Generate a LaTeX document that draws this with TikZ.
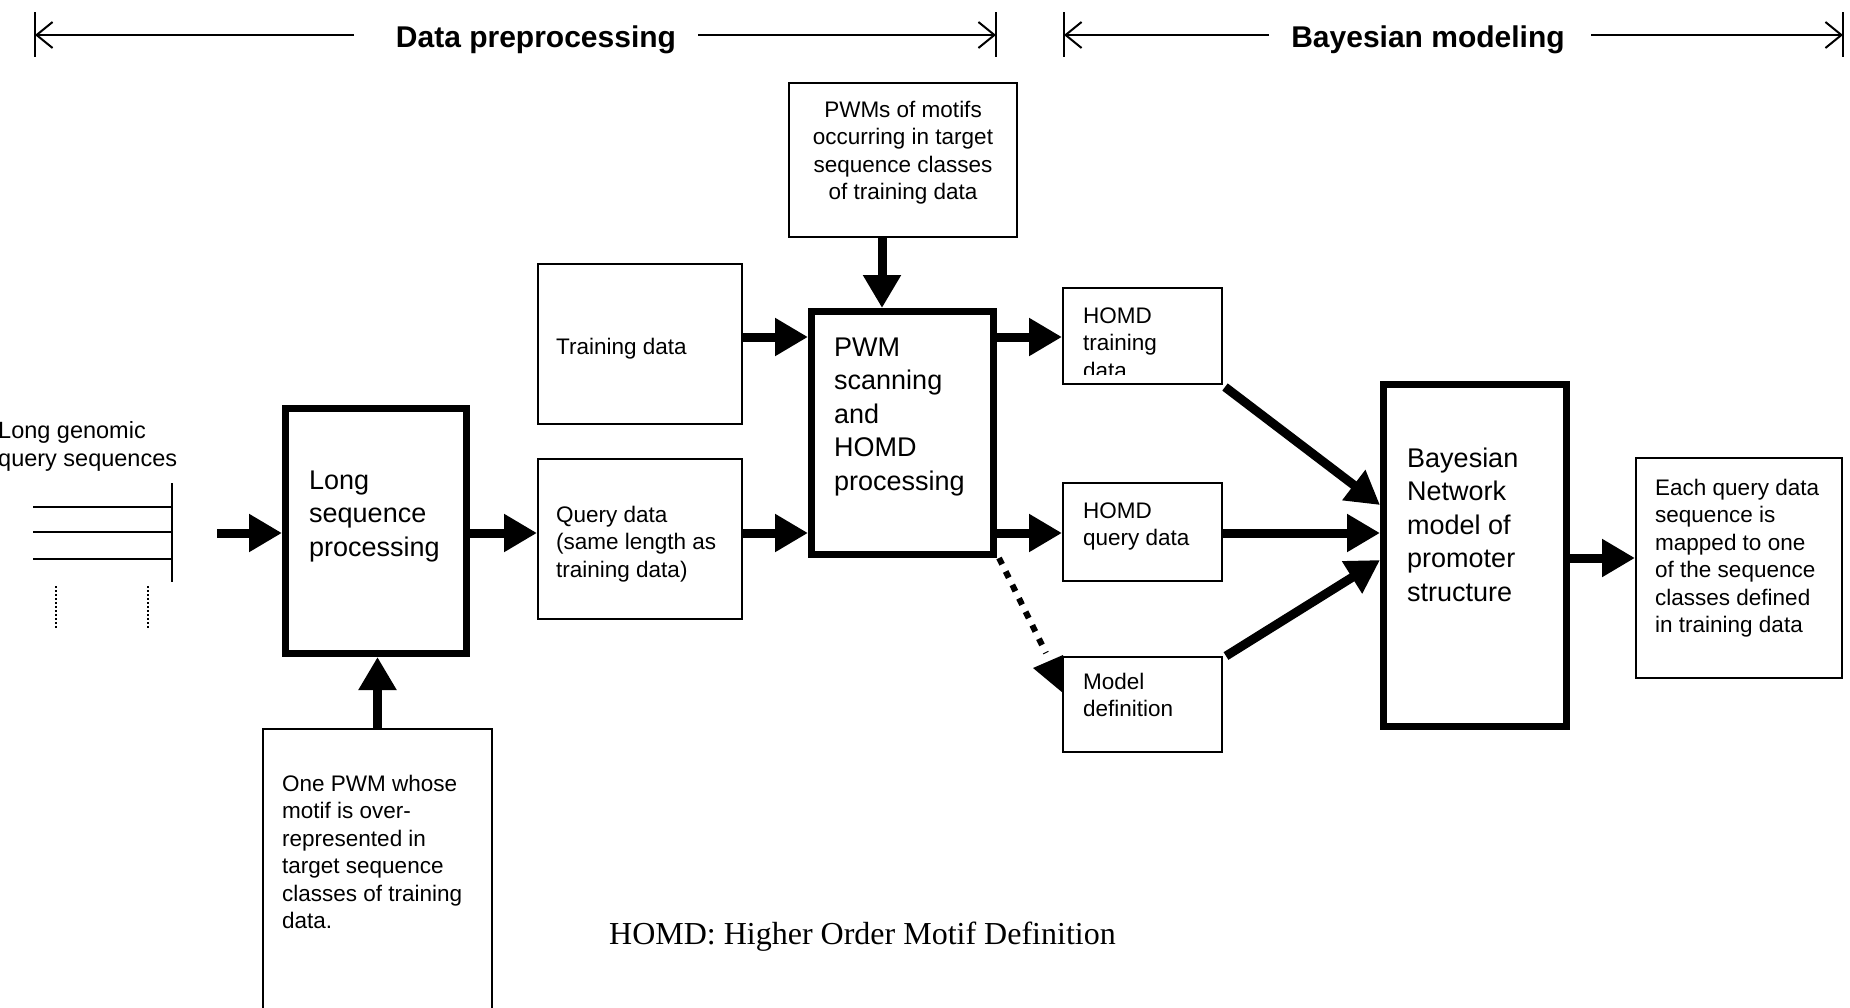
\documentclass[tikz,border=0pt]{standalone}
\usepackage{fontspec}
\setmainfont{Liberation Sans}
\newfontfamily\capfont{Liberation Serif}
\usetikzlibrary{arrows.meta,calc}
\begin{document}
\begin{tikzpicture}[x=1pt,y=-1pt,
  thinbox/.style={draw, line width=2pt, inner sep=0pt},
  thickbox/.style={draw, line width=7pt, inner sep=0pt},
  smalltext/.style={inner sep=0pt, anchor=north west, align=left, font=\fontsize{22.5}{27.5}\selectfont},
  bigtext/.style={inner sep=0pt, anchor=north west, align=left, font=\fontsize{27}{33.5}\selectfont},
  hdrtext/.style={inner sep=0pt, anchor=base, font=\fontsize{30}{36}\selectfont\bfseries},
  hdrline/.style={line width=2pt},
  hdrarrow/.style={line width=2pt, -{Straight Barb[length=16pt,width=26pt,line width=2pt]}},
  bigarrow/.style={line width=9pt, -{Triangle[length=33pt,width=36pt]}},
  dotarrow/.style={line width=6pt, dash pattern=on 7pt off 8pt},
  seqline/.style={line width=2pt},
  seqdots/.style={line width=1.6pt, dash pattern=on 2pt off 2pt}
]
\useasboundingbox (0,0) rectangle (1850,1007);
\fill[white] (0,0) rectangle (1850,1007);

% ---------- header ----------
\coordinate (hL1) at (35,35);
\coordinate (hL2) at (354,35);
\coordinate (hR2) at (698,35);
\coordinate (hR1) at (996,35);
\coordinate (bL1) at (1064,35);
\coordinate (bL2) at (1269,35);
\coordinate (bR2) at (1591,35);
\coordinate (bR1) at (1843,35);
\draw[hdrline] (35,12) -- (35,57);
\draw[hdrline] (996,12) -- (996,57);
\draw[hdrline] (1064,12) -- (1064,57);
\draw[hdrline] (1843,12) -- (1843,57);
\node[hdrtext] (dp) at (536,47) {Data preprocessing};
\node[hdrtext] (bm) at (1428,47) {Bayesian modeling};
\draw[hdrarrow] (hL2) -- (hL1);
\draw[hdrarrow] (hR2) -- (hR1);
\draw[hdrarrow] (bL2) -- (bL1);
\draw[hdrarrow] (bR2) -- (bR1);

% ---------- row coordinates ----------
\coordinate (r337) at (0,337);
\coordinate (r505) at (0,505);
\coordinate (r533) at (0,533);
\coordinate (r558) at (0,558);
\coordinate (r560) at (0,560);
\coordinate (c882) at (882,0);

% ---------- boxes ----------
\node[thinbox, minimum width=228pt, minimum height=154pt] (ptop) at (903,160) {};
\node[thinbox, minimum width=204pt, minimum height=160pt] (train) at (640,344) {};
\node[thinbox, minimum width=204pt, minimum height=160pt] (query) at (640,539) {};
\node[thickbox, minimum width=182pt, minimum height=243pt] (pwm) at (902.5,433) {};
\node[thinbox, minimum width=159pt, minimum height=96pt] (htrain) at (1142.5,336) {};
\node[thinbox, minimum width=159pt, minimum height=98pt] (hquery) at (1142.5,532) {};
\node[thinbox, minimum width=159pt, minimum height=95pt] (mdef) at (1142.5,704.5) {};
\node[thickbox, minimum width=183pt, minimum height=342pt] (bayes) at (1475,555.5) {};
\node[thinbox, minimum width=206pt, minimum height=220pt] (each) at (1739,568) {};
\node[thickbox, minimum width=181pt, minimum height=245pt] (long) at (376,531) {};
\node[thinbox, minimum width=229pt, minimum height=302pt] (onepwm) at (377.5,880) {};

% ---------- texts ----------
\node[smalltext, anchor=north, align=center] (tptop) at (903,97.75)
  {\strut PWMs of motifs\\occurring in target\\sequence classes\\of training data};
\node[smalltext] (ttrain) at (556,334.75) {\strut Training data};
\node[smalltext] (tquery) at (556,502.75) {\strut Query data\\(same length as\\training data)};
\node[bigtext] (tpwm) at (834,332.55) {\strut PWM\\scanning\\and\\HOMD\\processing};
\begin{scope}
  \clip (1064,289) rectangle (1221,374);
  \node[smalltext] (thtrain) at (1083,303.75) {\strut HOMD\\training\\data};
\end{scope}
\node[smalltext] (thquery) at (1083,498.75) {\strut HOMD\\query data};
\node[smalltext] (tmdef) at (1083,669.75) {\strut Model\\definition};
\node[bigtext] (tbayes) at (1407,443.55) {\strut Bayesian\\Network\\model of\\promoter\\structure};
\node[smalltext] (teach) at (1655,475.75)
  {\strut Each query data\\sequence is\\mapped to one\\of the sequence\\classes defined\\in training data};
\node[bigtext] (tlong) at (309,465.55) {\strut Long\\sequence\\processing};
\node[smalltext] (tonepwm) at (282,771.75)
  {\strut One PWM whose\\motif is over-\\represented in\\target sequence\\classes of training\\data.};
\node[smalltext, font=\fontsize{23.5}{28}\selectfont] (tgen) at (-2,418.4) {\strut Long genomic\\query sequences};
\node[inner sep=0pt, anchor=base west, font=\capfont\fontsize{32}{38}\selectfont] (cap) at (609,944)
  {HOMD: Higher Order Motif Definition};

% ---------- long genomic sequences glyph ----------
\draw[seqline] (33,507) -- (172,507);
\draw[seqline] (33,532) -- (172,532);
\draw[seqline] (33,559) -- (172,559);
\draw[seqline] (172,483) -- (172,582);
\draw[seqdots] (56,586) -- (56,628);
\draw[seqdots] (148,586) -- (148,628);
\coordinate (gin) at (217,533);

% ---------- connectors ----------
\draw[bigarrow] (gin) -- (long.west |- gin);
\draw[bigarrow] (long.east |- r533) -- (query.west |- r533);
\draw[bigarrow] (onepwm.north) -- (onepwm.north |- long.south);
\draw[bigarrow] (train.east |- r337) -- (pwm.west |- r337);
\draw[bigarrow] (query.east |- r533) -- (pwm.west |- r533);
\draw[bigarrow] (ptop.south -| c882) -- (pwm.north -| c882);
\draw[bigarrow] (pwm.east |- r337) -- (htrain.west |- r337);
\draw[bigarrow] (pwm.east |- r533) -- (hquery.west |- r533);
\draw[bigarrow] ($(htrain.south east)+(2,2)$) -- (bayes.west |- r505);
\draw[bigarrow] (hquery.east |- r533) -- (bayes.west |- r533);
\draw[bigarrow] ($(mdef.north east)+(3,0)$) -- (bayes.west |- r560);
\draw[bigarrow] (bayes.east |- r558) -- (each.west |- r558);
\coordinate (dotend) at (1046,653);
\draw[dotarrow] ($(pwm.south east)+(2,0)$) -- (dotend);
\fill ($(mdef.north west)+(1,-1)$) -- ++(-30,13) -- ++(30,25) -- cycle;
\end{tikzpicture}
\end{document}
